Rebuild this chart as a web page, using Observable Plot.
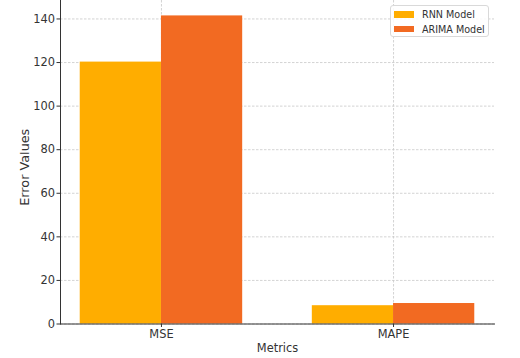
<!DOCTYPE html>
<html><head><meta charset="utf-8">
<script src="https://cdn.jsdelivr.net/npm/d3@7"></script>
<script src="https://cdn.jsdelivr.net/npm/@observablehq/plot@0.6"></script>
<style>
body{margin:0;background:#fff;font-family:"DejaVu Sans",sans-serif;}
#wrap{position:relative;width:520px;height:358px;}
.legend{position:absolute;left:390px;top:5px;width:99px;height:32px;border:1px solid #d9d9d9;border-radius:3px;background:rgba(255,255,255,0.85);box-sizing:border-box;font-size:9.6px;color:#333;}
.legend .item{position:absolute;left:3px;height:10px;display:flex;align-items:center;white-space:nowrap;}
.legend .sw{width:20px;height:6.5px;margin-right:8px;}
</style>
</head><body>
<div id="wrap"></div>
<script>
const metrics = ["MSE", "MAPE"];
const models = ["RNN Model", "ARIMA Model"];
const rnnValues = [120.2, 8.4];
const arimaValues = [141.4, 9.4];
const modelColors = ["#FFAD00", "#F26A22"];
const yTicks = [0, 20, 40, 60, 80, 100, 120, 140];
const yLabel = "Error Values";
const xLabel = "Metrics";

const barWidth = 0.35;
const seriesValues = [rnnValues, arimaValues];
const rows = [];
metrics.forEach((m, i) => {
  models.forEach((mod, j) => {
    rows.push({metric: m, model: mod, value: seriesValues[j][i],
      x1: i + (j - 1) * barWidth, x2: i + j * barWidth});
  });
});
const span = metrics.length - 1 + 2 * barWidth;
const xMin = -barWidth - 0.05 * span;
const xMax = metrics.length - 1 + barWidth + 0.05 * span;
const yMax = d3.max(rows, d => d.value) * 1.05;
const xIdx = metrics.map((_, i) => i);

const chart = Plot.plot({
  width: 520, height: 358,
  marginLeft: 60, marginRight: 26, marginTop: 0, marginBottom: 34.5,
  style: {fontFamily: "DejaVu Sans, sans-serif", fontSize: "11.4px", color: "#333", background: "#fff"},
  x: {type: "linear", domain: [xMin, xMax]},
  y: {domain: [0, yMax]},
  color: {domain: models, range: modelColors},
  marks: [
    Plot.gridY(yTicks, {stroke: "#c8c8c8", strokeOpacity: 1, strokeWidth: 0.8, strokeDasharray: "2.5,1.5"}),
    Plot.gridX(xIdx, {stroke: "#c8c8c8", strokeOpacity: 1, strokeWidth: 0.8, strokeDasharray: "2.5,1.5"}),
    Plot.rectY(rows, {x1: "x1", x2: "x2", y: "value", fill: "model"}),
    Plot.frame({anchor: "left", stroke: "#333", strokeWidth: 1}),
    Plot.frame({anchor: "bottom", stroke: "#333", strokeWidth: 1}),
    Plot.axisY(yTicks, {tickSize: 3.5, tickPadding: 2, fontSize: 11.4, stroke: "#333", label: null}),
    Plot.axisX(xIdx, {tickSize: 3.5, tickPadding: 2, fontSize: 11.4, stroke: "#333",
      tickFormat: i => metrics[i], label: null}),
    Plot.text([yLabel], {frameAnchor: "left", textAnchor: "middle", lineAnchor: "middle", text: d => d, rotate: -90, dx: -36, dy: 5, fontSize: 12.8, fill: "#333"}),
    Plot.text([xLabel], {frameAnchor: "bottom", text: d => d, dy: 28, fontSize: 11.4, fill: "#333"})
  ]
});
const wrap = document.getElementById("wrap");
wrap.appendChild(chart);

const legend = document.createElement("div");
legend.className = "legend";
models.forEach((m, j) => {
  const item = document.createElement("div");
  item.className = "item";
  item.style.top = (j === 0 ? 3.5 : 18) + "px";
  const sw = document.createElement("span");
  sw.className = "sw";
  sw.style.background = modelColors[j];
  const tx = document.createElement("span");
  tx.textContent = m;
  item.appendChild(sw); item.appendChild(tx);
  legend.appendChild(item);
});
wrap.appendChild(legend);
</script>
</body></html>
